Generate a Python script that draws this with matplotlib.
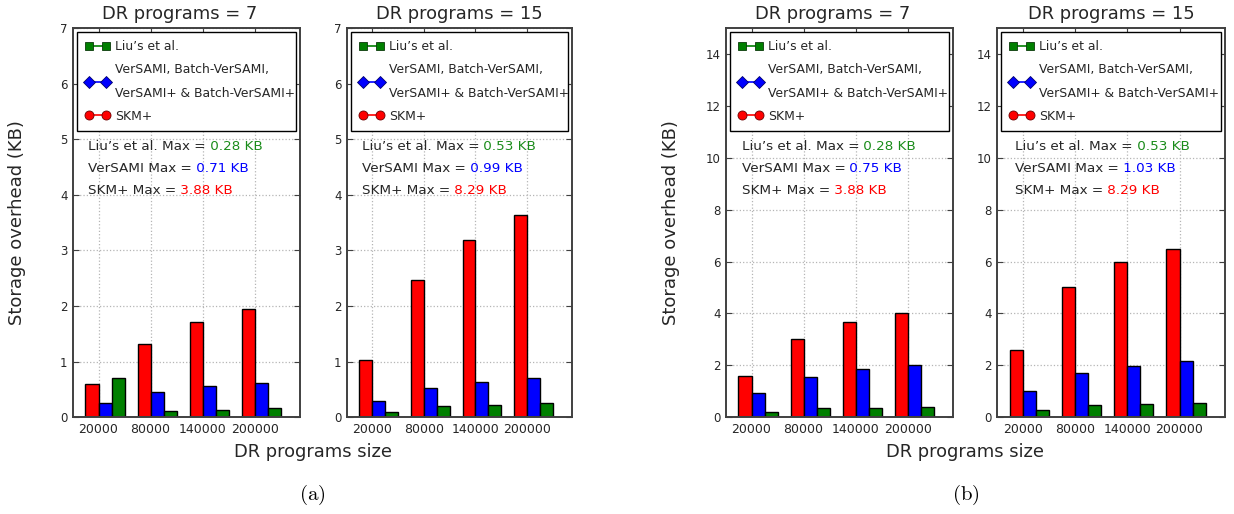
import numpy as np
import matplotlib
matplotlib.use("Agg")
import matplotlib.pyplot as plt
from matplotlib.lines import Line2D

sizes = ["20000", "80000", "140000", "200000"]

# panel (a)
a7_skm = [0.59, 1.31, 1.71, 1.95]
a7_ver = [0.25, 0.45, 0.56, 0.62]
a7_liu = [0.70, 0.11, 0.14, 0.16]
a15_skm = [1.03, 2.46, 3.18, 3.63]
a15_ver = [0.29, 0.52, 0.63, 0.71]
a15_liu = [0.10, 0.20, 0.23, 0.26]
# panel (b)
b7_skm = [1.58, 3.01, 3.67, 4.02]
b7_ver = [0.92, 1.56, 1.87, 2.01]
b7_liu = [0.19, 0.35, 0.37, 0.40]
b15_skm = [2.59, 5.01, 6.00, 6.50]
b15_ver = [1.00, 1.70, 1.98, 2.17]
b15_liu = [0.28, 0.46, 0.52, 0.55]

max_a7 = ["0.28 KB", "0.71 KB", "3.88 KB"]
max_a15 = ["0.53 KB", "0.99 KB", "8.29 KB"]
max_b7 = ["0.28 KB", "0.75 KB", "3.88 KB"]
max_b15 = ["0.53 KB", "1.03 KB", "8.29 KB"]

titles = ["DR programs = 7", "DR programs = 15"]
legend_labels = ["Liu\u2019s et al.", "VerSAMI, Batch-VerSAMI,\nVerSAMI+ & Batch-VerSAMI+", "SKM+"]
max_prefix = ["Liu\u2019s et al. Max =", "VerSAMI Max =", "SKM+ Max ="]

TXT = "#262626"
SPINE = "#404040"
GREEN = "#008000"
TGREEN = "#1a8c1a"

plt.rcParams['font.family'] = ['DejaVu Sans']
plt.rcParams['mathtext.fontset'] = 'cm'

W, H = 1234, 514
fig = plt.figure(figsize=(W / 100, H / 100), dpi=100)


def px_axes(l, r, t, b):
    return fig.add_axes([l / W, 1 - b / H, (r - l) / W, (b - t) / H])


panels = [
    (px_axes(73, 300, 28, 417.3), a7_skm, a7_ver, a7_liu, max_a7, titles[0], 7, 1, 0.067, -7 / 227),
    (px_axes(347, 572, 28, 417.3), a15_skm, a15_ver, a15_liu, max_a15, titles[1], 7, 1, 0.066, 0),
    (px_axes(726, 953, 28, 417.3), b7_skm, b7_ver, b7_liu, max_b7, titles[0], 15, 2, 0.069, -7 / 227),
    (px_axes(997, 1225, 28, 417.3), b15_skm, b15_ver, b15_liu, max_b15, titles[1], 15, 2, 0.079, 0),
]

width = 0.25
ind = np.arange(len(sizes))
for ax, skm, ver, liu, mx, title, ytop, ystep, tx, tshift in panels:
    ax.bar(ind, skm, width, align='edge', color='red', edgecolor='black', linewidth=1.0, zorder=2)
    ax.bar(ind + width, ver, width, align='edge', color='blue', edgecolor='black', linewidth=1.0, zorder=2)
    ax.bar(ind + 2 * width, liu, width, align='edge', color=GREEN, edgecolor='black', linewidth=1.0, zorder=2)
    ax.set_xticks(ind + width)
    ax.set_xticklabels(sizes, fontsize=9, color=TXT)
    ax.set_xlim(-0.24, 4.12)
    ax.set_ylim(0, ytop)
    ax.set_yticks(np.arange(0, (ytop // ystep) * ystep + 1, ystep))
    ax.tick_params(axis='y', labelsize=8.5, labelcolor=TXT)
    ax.tick_params(direction='in', top=True, right=True, length=4, width=0.8, color=SPINE, pad=4)
    ax.grid(True, linestyle=':', color='#b5b5b5', linewidth=0.9, zorder=0)
    ax.set_axisbelow(True)
    for s in ax.spines.values():
        s.set_color(SPINE)
        s.set_linewidth(1.4)
    ax.set_title(title, fontsize=12.9, color=TXT, pad=6.5, x=0.5 + tshift)

    handles = [
        Line2D([0], [0], color=GREEN, marker='s', markersize=6, lw=1.2, markeredgecolor='#0a3a0a', markeredgewidth=0.6),
        Line2D([0], [0], color='blue', marker='D', markersize=6, lw=1.2, markeredgecolor='#00006a', markeredgewidth=0.6),
        Line2D([0], [0], color='red', marker='o', markersize=6.5, lw=1.2, markeredgecolor='#6a0000', markeredgewidth=0.6),
    ]
    leg = ax.legend(handles, legend_labels, loc='upper left', bbox_to_anchor=(0.018, 0.745, 0.964, 0.244),
                    mode='expand', borderaxespad=0, numpoints=2, fontsize=8.9, fancybox=False,
                    framealpha=1, edgecolor='black', handlelength=2.0, handletextpad=0.45,
                    labelspacing=0.8, borderpad=0.65)
    leg.get_frame().set_linewidth(1.0)
    for t in leg.get_texts():
        t.set_color(TXT)
    leg.get_texts()[1].set_linespacing(2.05)
    leg.get_texts()[1].set_multialignment('left')

    colors = [TGREEN, 'blue', 'red']
    ys = [0.695, 0.64, 0.583]
    for pre, val, c, y in zip(max_prefix, mx, colors, ys):
        t1 = ax.text(tx, y, pre, transform=ax.transAxes, fontsize=9.7, color=TXT, va='center', ha='left')
        ax.annotate(" " + val, xy=(1, 0), xycoords=t1, fontsize=9.7, color=c, va='bottom', ha='left')

fig.text(17.5 / W, 1 - 223 / H, "Storage overhead (KB)", fontsize=13, color=TXT, rotation=90, ha='center', va='center')
fig.text(670.5 / W, 1 - 223 / H, "Storage overhead (KB)", fontsize=13, color=TXT, rotation=90, ha='center', va='center')

fig.text(312.5 / W, 1 - 452 / H, "DR programs size", fontsize=12.9, color=TXT, ha='center', va='center')
fig.text(965.5 / W, 1 - 452 / H, "DR programs size", fontsize=12.9, color=TXT, ha='center', va='center')
fig.text(312.5 / W, 1 - 495 / H, r"$\mathrm{(a)}$", fontsize=15, color='black', ha='center', va='center')
fig.text(966 / W, 1 - 495 / H, r"$\mathrm{(b)}$", fontsize=15, color='black', ha='center', va='center')

fig.savefig("out.png", dpi=100)
